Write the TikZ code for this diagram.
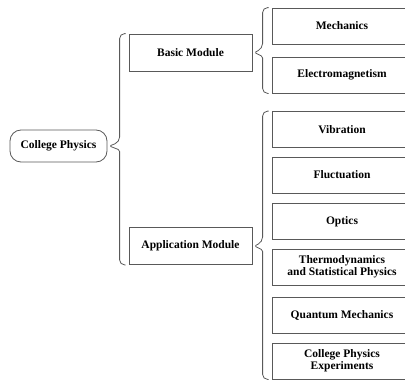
\documentclass[tikz,border=0pt]{standalone}
\usepackage{fontspec}
\setmainfont{Liberation Serif}
\usetikzlibrary{calc}

% curly group brace: tip in front of #1, spanning from the top of #2 to the bottom of #3
\newcommand\groupbrace[3]{%
  \draw[braceline] let \p1=(#1.east), \p2=(#2.north west), \p3=(#3.south west) in
    (\x2-3pt,\y2) [rounded corners=5pt] -- (\x2-9pt,\y2) -- (\x2-9pt,\y1+4pt)
    [rounded corners=1.5pt] -- (\x1+2pt,\y1) -- (\x2-9pt,\y1-4pt)
    [rounded corners=5pt] -- (\x2-9pt,\y3) -- (\x2-3pt,\y3);}

\begin{document}
\begin{tikzpicture}[x=1pt,y=-1pt,
  txt/.style={font=\bfseries\fontsize{11.5}{12}\selectfont},
  box/.style={txt, draw=black!65, line width=0.8pt, inner sep=0pt, align=center},
  rootbox/.style={box, rounded corners=11pt, minimum width=97pt, minimum height=32pt},
  modbox/.style={box, minimum width=123pt, minimum height=37pt},
  topicbox/.style={box, minimum width=140pt, minimum height=36pt},
  braceline/.style={draw=black!65, line width=0.8pt}]
\useasboundingbox (0,0) rectangle (405,380);

\node[rootbox] (root) at (58.5,146) {College Physics};

\node[modbox] (basic) at (190.5,52.5) {Basic Module};
\node[modbox] (app) at (190.5,246) {Application Module};

\node[topicbox] (mech) at (342,26) {Mechanics};
\node[topicbox] (em) at (342,75) {Electromagnetism};

\node[topicbox] (vib) at (342,129.5) {Vibration};
\node[topicbox] (fluc) at (342,175) {Fluctuation};
\node[topicbox] (opt) at (342,221.5) {Optics};
\node[topicbox] (thermo) at (342,267) {Thermodynamics\\and Statistical Physics};
\node[topicbox] (quant) at (342,315) {Quantum Mechanics};
\node[topicbox] (exp) at (342,361) {College Physics\\Experiments};

\groupbrace{root}{basic}{app}
\groupbrace{basic}{mech}{em}
\groupbrace{app}{vib}{exp}
\end{tikzpicture}
\end{document}
